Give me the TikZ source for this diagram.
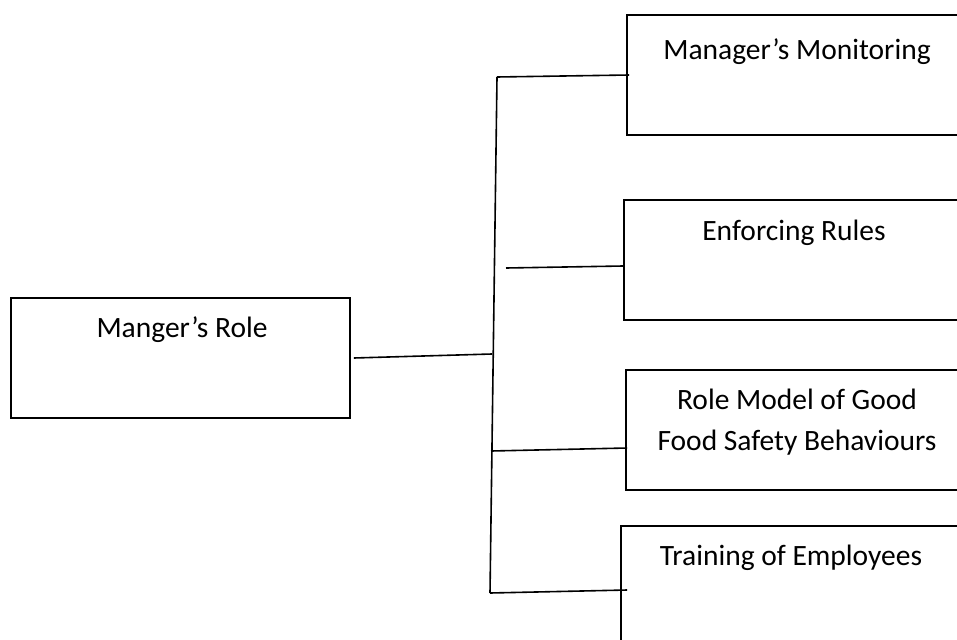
\documentclass[tikz,border=0pt]{standalone}
\usepackage{fontspec}
\setmainfont{Carlito}
\begin{document}
\begin{tikzpicture}[x=1pt,y=-1pt,line width=1.6pt,
  box/.style={draw=black, rectangle, inner sep=0pt, minimum height=120pt},
  lbl/.style={anchor=base, font=\fontsize{29.5}{41}\selectfont, align=center, inner sep=0pt},
  wire/.style={draw=black, line width=1.6pt}]
\useasboundingbox (0,0) rectangle (957,639);
\clip (0,0) rectangle (957,639);

% boxes
\node[box, minimum width=339pt] (role)  at (180.5,358) {};
\node[box, minimum width=338pt] (mon)   at (796,75)    {};
\node[box, minimum width=341pt] (rules) at (794.5,260) {};
\node[box, minimum width=339pt] (model) at (795.5,430) {};
\node[box, minimum width=344pt] (train) at (793,586)   {};

% box captions (base anchor sits on the last line)
\node[lbl] (roleT)  at (182,337) {Manger’s Role};
\node[lbl] (monT)   at (797,60)  {Manager’s Monitoring};
\node[lbl] (rulesT) at (794,240) {Enforcing Rules};
\node[lbl] (modelT) at (797,450) {Role Model of Good\\Food Safety Behaviours};
\node[lbl] (trainT) at (791,565) {Training of Employees};

% trunk of the tree
\coordinate (top) at (497,77);
\coordinate (bot) at (490,593);
\coordinate (hub) at (492,354);
\coordinate (j2)  at (506,268);
\coordinate (j3)  at (491,451);

\draw[wire] (top) -- (bot);
\draw[wire] ([xshift=3pt]role.east) -- (hub);
\draw[wire] (top) -- ([xshift=3pt]mon.west);
\draw[wire] (j2) -- ([yshift=-6pt]rules.west);
\draw[wire] (j3) -- ([shift={(2pt,-18pt)}]model.west);
\draw[wire] (bot) -- ([shift={(7pt,-4pt)}]train.west);
\end{tikzpicture}
\end{document}
